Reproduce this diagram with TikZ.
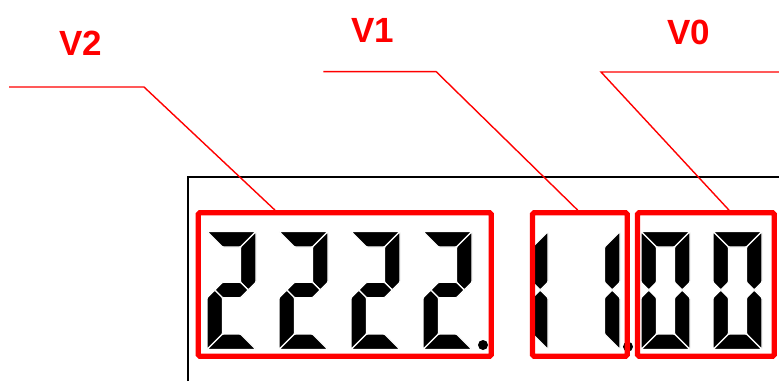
\documentclass[tikz,border=0pt]{standalone}
\usepackage{fontspec}
\setmainfont{Liberation Sans}
\def\dW{49}\def\dH{118}\def\dT{15.5}\def\dM{59.5}
\tikzset{
  seg/.style={fill=black, draw=white, line width=1.1pt, line join=round, rounded corners=1.2pt},
  redbox/.style={draw=red, line width=5.3pt, rounded corners=1.5pt, inner sep=0pt, outer sep=2.65pt},
  leader/.style={draw=red, line width=1.4pt},
  frameline/.style={draw=black, line width=2pt},
  vlabel/.style={text=red, font=\fontsize{35}{35}\selectfont\bfseries, inner sep=0pt},
  dp/.style={fill=black},
  pics/sa/.style={code={\path[seg] (0,\dH) -- (\dW,\dH) -- (\dW-\dT,\dH-\dT) -- (\dT,\dH-\dT) -- cycle;}},
  pics/sb/.style={code={\path[seg] (\dW,\dH) -- (\dW,\dM+\dT/2) -- (\dW-\dT/2,\dM) -- (\dW-\dT,\dM+\dT/2) -- (\dW-\dT,\dH-\dT) -- cycle;}},
  pics/sc/.style={code={\path[seg] (\dW,0) -- (\dW,\dM-\dT/2) -- (\dW-\dT/2,\dM) -- (\dW-\dT,\dM-\dT/2) -- (\dW-\dT,\dT) -- cycle;}},
  pics/sd/.style={code={\path[seg] (0,0) -- (\dW,0) -- (\dW-\dT,\dT) -- (\dT,\dT) -- cycle;}},
  pics/se/.style={code={\path[seg] (0,0) -- (0,\dM-\dT/2) -- (\dT/2,\dM) -- (\dT,\dM-\dT/2) -- (\dT,\dT) -- cycle;}},
  pics/sf/.style={code={\path[seg] (0,\dH) -- (0,\dM+\dT/2) -- (\dT/2,\dM) -- (\dT,\dM+\dT/2) -- (\dT,\dH-\dT) -- cycle;}},
  pics/sg/.style={code={\path[seg] (\dT/2,\dM) -- (\dT,\dM+\dT/2) -- (\dW-\dT,\dM+\dT/2) -- (\dW-\dT/2,\dM) -- (\dW-\dT,\dM-\dT/2) -- (\dT,\dM-\dT/2) -- cycle;}},
}
\begin{document}
\begin{tikzpicture}[x=1pt,y=1pt]
\useasboundingbox (0,0) rectangle (779,381);
% frame
\coordinate (fb) at (188,0);
\coordinate (fc) at (188,204.3);
\coordinate (fr) at (779,204.3);
\draw[frameline] (fb) -- (fc) -- (fr);
% digits V2: 2222
\foreach \x in {207,279,351,423}{
  \begin{scope}[shift={(\x,31.5)}, xslant=0.08]
    \pic{sa}; \pic{sb}; \pic{sg}; \pic{se}; \pic{sd};
  \end{scope}
}
% digits V1: 11
\foreach \x in {499,571}{
  \begin{scope}[shift={(\x,31.5)}, xslant=0.08]
    \pic{sb}; \pic{sc};
  \end{scope}
}
% digits V0: 00
\foreach \x in {641,713}{
  \begin{scope}[shift={(\x,31.5)}, xslant=0.08]
    \pic{sa}; \pic{sb}; \pic{sc}; \pic{sd}; \pic{se}; \pic{sf};
  \end{scope}
}
% decimal points
\fill[dp] (483,36) circle (5);
\fill[dp] (628,34.3) circle (5);
% red boxes
\node[redbox, minimum width=292.9pt, minimum height=143.4pt] (b2) at (344.75,96.5) {};
\node[redbox, minimum width=94.7pt, minimum height=143.4pt] (b1) at (579.85,96.5) {};
\node[redbox, minimum width=136.7pt, minimum height=143.4pt] (b0) at (705.85,96.5) {};
% labels
\node[vlabel] (t2) at (80.8,337.5) {V2};
\node[vlabel] (t1) at (373,350.8) {V1};
\node[vlabel] (t0) at (689,348.5) {V0};
% leaders
\coordinate (s2) at (9,294);
\coordinate (k2) at (144,294);
\coordinate (e2) at (275,0);
\draw[leader] (s2) -- (k2) -- (b2.north -| e2);
\coordinate (s1) at (323.4,309.3);
\coordinate (k1) at (436.2,309.3);
\coordinate (e1) at (577.7,0);
\draw[leader] (s1) -- (k1) -- (b1.north -| e1);
\coordinate (s0) at (779,309);
\coordinate (k0) at (601,309);
\coordinate (e0) at (729,0);
\draw[leader] (s0) -- (k0) -- (b0.north -| e0);
\end{tikzpicture}
\end{document}
